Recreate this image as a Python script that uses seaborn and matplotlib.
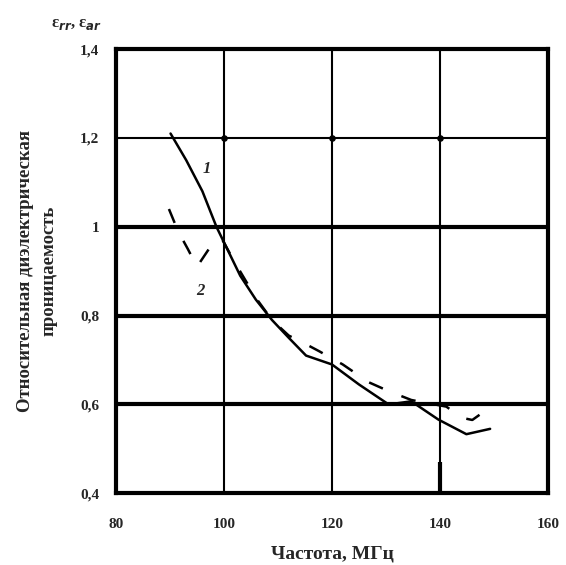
import matplotlib
matplotlib.use("Agg")
import matplotlib.pyplot as plt
import seaborn as sns
import pandas as pd

# Curve 1 (solid)
freq_1 = [90.1, 93.0, 96.0, 98.6, 100.4, 103.0, 105.9, 108.9, 112.0, 115.2, 120.0, 125.0, 130.5, 134.7, 139.7, 144.9, 149.3]
eps_1 = [1.21, 1.15, 1.08, 1.00, 0.955, 0.89, 0.836, 0.79, 0.75, 0.71, 0.69, 0.645, 0.60, 0.607, 0.566, 0.533, 0.545]
# Curve 2 (dashed)
freq_2 = [89.8, 91.5, 93.3, 95.0, 97.2, 99.5, 102.0, 105.9, 108.9, 112.0, 114.5, 117.6, 122.0, 126.8, 130.5, 134.7, 141.2, 144.0, 146.0, 147.5, 149.5]
eps_2 = [1.04, 0.99, 0.95, 0.91, 0.95, 0.975, 0.92, 0.84, 0.79, 0.755, 0.74, 0.72, 0.69, 0.65, 0.63, 0.61, 0.595, 0.57, 0.565, 0.578, 0.60]

x_ticks = [80, 100, 120, 140, 160]
y_ticks = [0.4, 0.6, 0.8, 1.0, 1.2, 1.4]
y_tick_labels = ["0,4", "0,6", "0,8", "1", "1,2", "1,4"]
thick_grid = [0.6, 0.8, 1.0]
thin_grid = [1.2]
dot_x = [100, 120, 140]

sns.set_style("white")
plt.rcParams['font.family'] = ['Liberation Serif', 'DejaVu Serif']
plt.rcParams['font.weight'] = 'bold'

fig = plt.figure(figsize=(5.66, 5.65), dpi=100)
ax = fig.add_axes([0.205, 0.127, 0.763, 0.786])

df1 = pd.DataFrame({"f": freq_1, "e": eps_1})
df2 = pd.DataFrame({"f": freq_2, "e": eps_2})

for xv in x_ticks[1:-1]:
    ax.axvline(xv, color="black", lw=1.5, zorder=1)
for yv in thick_grid:
    ax.axhline(yv, color="black", lw=3.0, zorder=1)
for yv in thin_grid:
    ax.axhline(yv, color="black", lw=1.5, zorder=1)
ax.scatter(dot_x, [1.2] * len(dot_x), s=14, color="black", zorder=2)
ax.vlines(140, 0.4, 0.47, color="black", lw=3, zorder=2)

sns.lineplot(data=df1, x="f", y="e", ax=ax, color="black", lw=1.8, sort=False, estimator=None, zorder=3)
sns.lineplot(data=df2, x="f", y="e", ax=ax, color="black", lw=1.8, sort=False, estimator=None, zorder=3, dashes=False)
ax.lines[-1].set_dashes([6, 8])

ax.text(96.8, 1.13, "1", fontsize=12, style="italic", fontweight="bold", ha="center", va="center")
ax.text(95.7, 0.855, "2", fontsize=12, style="italic", fontweight="bold", ha="center", va="center")

ax.set_xlim(80, 160)
ax.set_ylim(0.4, 1.4)
ax.set_xticks(x_ticks)
ax.set_xticklabels([str(v) for v in x_ticks], fontsize=11, fontweight="bold")
ax.set_yticks(y_ticks)
ax.set_yticklabels(y_tick_labels, fontsize=11, fontweight="bold")
ax.tick_params(length=0, pad=12)
ax.tick_params(axis="x", pad=18)
for s in ax.spines.values():
    s.set_linewidth(3)
    s.set_color("black")

ax.set_xlabel("Частота, МГц", fontsize=14, fontweight="bold", labelpad=10)
ax.set_ylabel("Относительная диэлектрическая\nпроницаемость", fontsize=13.5, fontweight="bold", labelpad=16, linespacing=1.5)

fig.text(0.09, 0.958, "ε$_{rr}$, ε$_{ar}$", fontsize=12, fontweight="bold", ha="left", va="center")

fig.savefig("out.png", dpi=100)
